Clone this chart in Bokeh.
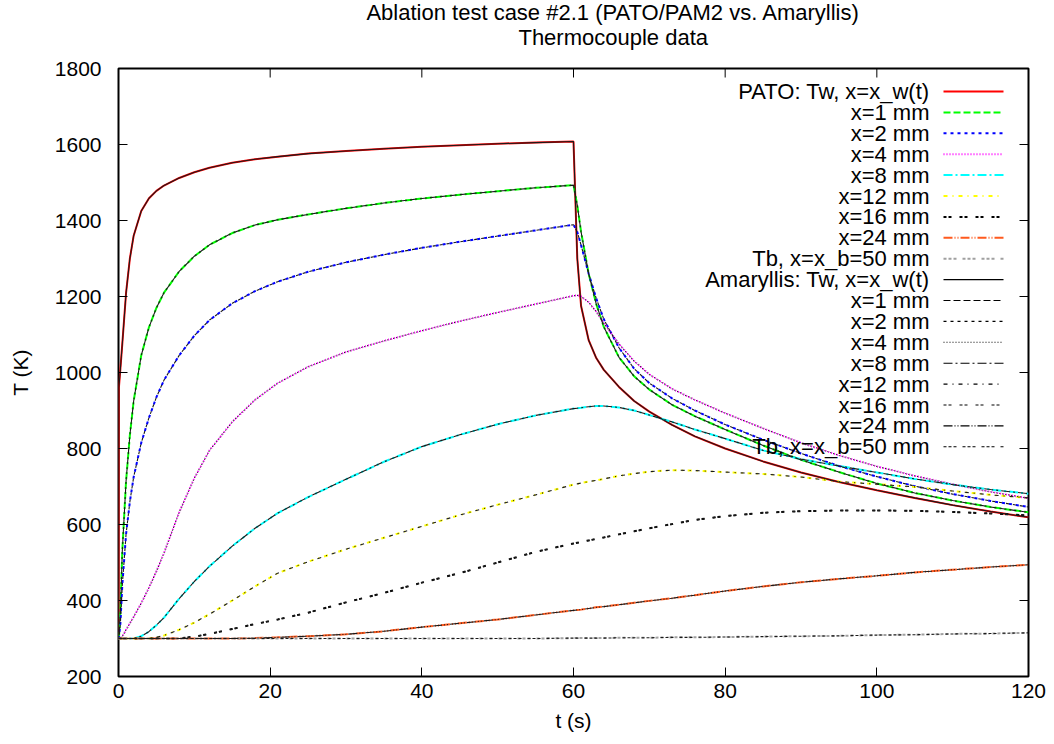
from bokeh.plotting import figure
from bokeh.layouts import column
from bokeh.models import FixedTicker, Range1d
from bokeh.embed import file_html
from bokeh.resources import INLINE
from bokeh.core.properties import value

# ---------------- data ----------------
t = [0, 0.05, 0.25, 0.5, 1, 1.5, 2, 3, 4, 5, 6, 8, 10, 12, 15, 18, 21, 25, 30, 35, 40, 45, 50, 55, 60,
     60.5, 61, 62, 63, 64, 66, 68, 70, 73, 76, 80, 85, 90, 95, 100, 105, 110, 115, 120]

pato_tw = [300, 960, 1010, 1075, 1210, 1300, 1360, 1425, 1458, 1478, 1492, 1512, 1527, 1539, 1552, 1561, 1568, 1576, 1583, 1589, 1594, 1598, 1602, 1605, 1608,
           1300, 1175, 1085, 1038, 1007, 962, 925, 897, 862, 832, 800, 766, 737, 712, 690, 670, 651, 634, 619]
pato_x1 = [300, 300, 370, 530, 715, 835, 925, 1045, 1118, 1170, 1210, 1266, 1306, 1336, 1367, 1388, 1402, 1416, 1432, 1446, 1458, 1468, 1477, 1486, 1493,
           1440, 1370, 1260, 1180, 1120, 1040, 990, 955, 915, 885, 850, 808, 770, 738, 708, 683, 663, 646, 632]
pato_x2 = [300, 300, 340, 440, 575, 660, 725, 815, 880, 935, 980, 1045, 1097, 1138, 1182, 1214, 1239, 1265, 1290, 1310, 1328, 1344, 1359, 1374, 1389,
           1370, 1335, 1260, 1195, 1140, 1065, 1010, 972, 932, 900, 863, 823, 787, 754, 726, 701, 680, 662, 646]
pato_x4 = [300, 300, 300, 305, 323, 340, 357, 393, 433, 477, 525, 632, 722, 795, 870, 928, 972, 1015, 1054, 1083, 1110, 1135, 1158, 1180, 1202,
           1203, 1200, 1185, 1160, 1130, 1075, 1030, 995, 957, 928, 893, 853, 815, 782, 753, 728, 706, 686, 669]
pato_x8 = [300, 300, 300, 300, 300, 300, 300, 306, 318, 335, 355, 405, 450, 490, 543, 590, 630, 672, 719, 765, 805, 836, 864, 887, 905,
           906, 907, 910, 912, 912, 908, 900, 888, 870, 850, 826, 795, 772, 754, 737, 720, 705, 692, 681]
pato_x12 = [300, 300, 300, 300, 300, 300, 300, 300, 300, 303, 308, 323, 342, 364, 400, 437, 472, 502, 535, 565, 595, 625, 652, 678, 705,
            707, 709, 713, 716, 720, 728, 734, 739, 743, 742, 738, 733, 725, 713, 706, 699, 688, 678, 670]
pato_x16 = [300, 300, 300, 300, 300, 300, 300, 300, 300, 300, 300, 300, 305, 312, 325, 338, 350, 368, 395, 420, 447, 472, 500, 528, 550,
            552, 554, 558, 562, 566, 574, 582, 590, 601, 612, 622, 631, 635, 637, 637, 636, 633, 629, 624]
pato_x24 = [300, 300, 300, 300, 300, 300, 300, 300, 300, 300, 300, 300, 300, 300, 300, 301, 303, 306, 311, 319, 330, 340, 350, 362, 374,
            375, 376, 379, 382, 384, 389, 394, 399, 406, 414, 425, 437, 448, 457, 465, 474, 481, 488, 494]
pato_tb = [300, 300, 300, 300, 300, 300, 300, 300, 300, 300, 300, 300, 300, 300, 300, 300, 300, 300, 300, 300, 300, 300, 300, 300, 301,
           301, 301, 301, 301, 301, 302, 302, 302, 303, 303, 304, 305, 306, 307, 309, 310, 312, 313, 315]

# Amaryllis curves lie on top of the PATO ones throughout the picture
ama_tw, ama_x1, ama_x2, ama_x4 = pato_tw, pato_x1, pato_x2, pato_x4
ama_x8, ama_x12, ama_x16, ama_x24, ama_tb = pato_x8, pato_x12, pato_x16, pato_x24, pato_tb

pato_labels = ["PATO: Tw, x=x_w(t)", "x=1 mm", "x=2 mm", "x=4 mm", "x=8 mm", "x=12 mm",
               "x=16 mm", "x=24 mm", "Tb, x=x_b=50 mm"]
ama_labels = ["Amaryllis: Tw, x=x_w(t)", "x=1 mm", "x=2 mm", "x=4 mm", "x=8 mm", "x=12 mm",
              "x=16 mm", "x=24 mm", "Tb, x=x_b=50 mm"]
x_ticks = [0, 20, 40, 60, 80, 100, 120]
y_ticks = [200, 400, 600, 800, 1000, 1200, 1400, 1600, 1800]
title_lines = ["Ablation test case #2.1 (PATO/PAM2 vs. Amaryllis)", "Thermocouple data"]

# ---------------- styles ----------------
pato_colors = ["#ff0000", "#00ff00", "#0000ff", "#ff00ff", "#00ffff", "#ffff00", "#000000", "#ff5a1e", "#a0a0a0"]
dashes = ["solid", "7 3", "3 4", "1 2", "9 3 2 3", "4 5 1 5", "3 2 3 8", "9 2 1 2 1 2", "3 2 3 2 3 6"]
offsets = [0, 5, 3, 1, 8, 7, 0, 8, 9]

FONT = "Liberation Sans"
FS = "21px"
FS_BIG = "22px"
W, H = 1054, 744
TITLE_H = 54
LEFT, RIGHT, TOP, BOTTOM = 118, 26, 14, 68
XMIN, XMAX, YMIN, YMAX = 0, 120, 200, 1800
PH = H - TITLE_H
fw, fh = W - LEFT - RIGHT, PH - TOP - BOTTOM

# ---------------- title strip ----------------
tfig = figure(width=W, height=TITLE_H, output_backend="svg", toolbar_location=None,
              x_range=Range1d(0, W), y_range=Range1d(TITLE_H, 0),
              x_axis_type=None, y_axis_type=None, min_border=0,
              background_fill_color="white", border_fill_color="white")
tfig.outline_line_color = None
tfig.xgrid.visible = False
tfig.ygrid.visible = False
tfig.text(x=[LEFT + fw / 2] * 2, y=[12, 37], text=title_lines, text_align="center",
          text_baseline="middle", text_font=value(FONT), text_font_size=FS_BIG, text_color="black")

# ---------------- main plot ----------------
p = figure(width=W, height=PH, output_backend="svg", toolbar_location=None,
           x_range=Range1d(XMIN, XMAX), y_range=Range1d(YMIN, YMAX),
           min_border_left=LEFT, min_border_right=RIGHT, min_border_top=TOP, min_border_bottom=BOTTOM,
           background_fill_color="white", border_fill_color="white")
p.xgrid.visible = False
p.ygrid.visible = False
p.outline_line_color = "black"
p.outline_line_width = 2
p.outline_line_alpha = 1


def style_axis(ax, ticks):
    ax.ticker = FixedTicker(ticks=ticks)
    ax.axis_line_color = None
    ax.major_tick_in = 9
    ax.major_tick_out = 0
    ax.major_tick_line_color = "black"
    ax.major_tick_line_width = 1
    ax.minor_tick_line_color = None
    ax.major_label_text_font = FONT
    ax.major_label_text_color = "black"
    ax.major_label_text_font_size = FS
    ax.axis_label_text_font = FONT
    ax.axis_label_text_font_size = FS
    ax.axis_label_text_font_style = "normal"
    ax.axis_label_text_color = "black"


style_axis(p.xaxis[0], x_ticks)
style_axis(p.yaxis[0], y_ticks)
p.xaxis[0].major_label_standoff = 7
p.yaxis[0].major_label_standoff = 17
p.xaxis[0].axis_label = "t (s)"
p.yaxis[0].axis_label = "T (K)"
p.xaxis[0].axis_label_standoff = 8
p.yaxis[0].axis_label_standoff = 20


# ---------------- screen px <-> data helpers (px measured on the whole page) ----------------
def px_to_x(px):
    return XMIN + (px - LEFT) * (XMAX - XMIN) / fw


def py_to_y(py):
    return YMIN + (TITLE_H + TOP + fh - py) * (YMAX - YMIN) / fh


TICK = 9
dy_tick = TICK * (YMAX - YMIN) / fh
dx_tick = TICK * (XMAX - XMIN) / fw
# mirrored ticks on the top and right edges
p.segment(x0=x_ticks, y0=[YMAX] * len(x_ticks), x1=x_ticks, y1=[YMAX - dy_tick] * len(x_ticks),
          line_color="black", line_width=1)
p.segment(x0=[XMAX] * len(y_ticks), y0=y_ticks, x1=[XMAX - dx_tick] * len(y_ticks), y1=y_ticks,
          line_color="black", line_width=1)

LEG_TEXT_R = px_to_x(929)
LEG_L0, LEG_L1 = px_to_x(943), px_to_x(1003)
ROW0, ROW_STEP = 91, 20.9

pato_series = [pato_tw, pato_x1, pato_x2, pato_x4, pato_x8, pato_x12, pato_x16, pato_x24, pato_tb]
ama_series = [ama_tw, ama_x1, ama_x2, ama_x4, ama_x8, ama_x12, ama_x16, ama_x24, ama_tb]

row = 0
for ser, col, dash, lab in zip(pato_series, pato_colors, dashes, pato_labels):
    p.line(t, ser, line_color=col, line_width=2, line_dash=dash)
    ly = py_to_y(ROW0 + row * ROW_STEP)
    p.line([LEG_L0, LEG_L1], [ly, ly], line_color=col, line_width=2, line_dash=dash)
    p.text(x=[LEG_TEXT_R], y=[ly], text=[lab], text_align="right", text_baseline="middle",
           text_font=value(FONT), text_font_size=FS_BIG, text_color="black")
    row += 1

for ser, dash, off, lab in zip(ama_series, dashes, offsets, ama_labels):
    p.line(t, ser, line_color="#1a1a1a", line_width=1.1, line_dash=dash, line_dash_offset=off)
    ly = py_to_y(ROW0 + row * ROW_STEP)
    p.line([LEG_L0, LEG_L1], [ly, ly], line_color="#000000", line_width=1.1, line_dash=dash)
    p.text(x=[LEG_TEXT_R], y=[ly], text=[lab], text_align="right", text_baseline="middle",
           text_font=value(FONT), text_font_size=FS_BIG, text_color="black")
    row += 1

layout = column(tfig, p, spacing=0)
open("out.html", "w").write(file_html(layout, INLINE))
